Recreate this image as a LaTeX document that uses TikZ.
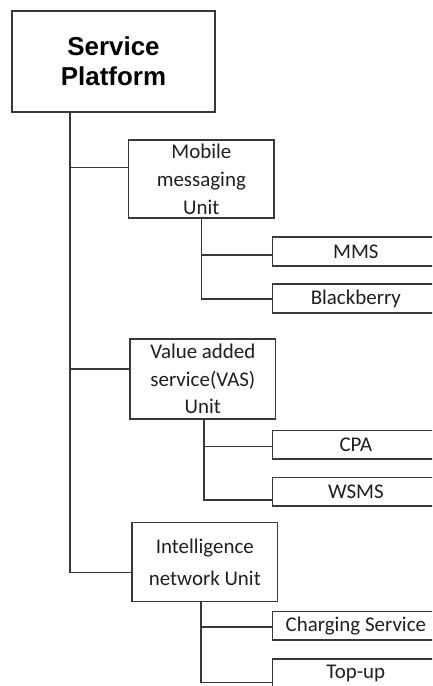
\documentclass[tikz,border=0pt]{standalone}
\usepackage{fontspec}
\setmainfont{Carlito}
\newfontfamily\headfont{Liberation Sans}
\begin{document}
\begin{tikzpicture}[x=1bp,y=-1bp,
  edgeline/.style={draw=black!78, line width=1.3bp},
  box/.style={edgeline, rectangle, inner sep=0pt, align=center, text=black!88,
    font=\fontsize{21}{28}\selectfont},
  unitbox/.style={box, minimum width=145.5bp, minimum height=79bp},
  leafbox/.style={box, minimum width=166.3bp, minimum height=29bp},
]
\clip (0,0) rectangle (432,686);
\fill[white] (0,0) rectangle (432,686);

% root
\node[edgeline, inner sep=0pt, minimum width=203bp, minimum height=101bp, align=center,
  font=\headfont\bfseries\fontsize{26}{30}\selectfont] (sp) at (113.5,61.5) {Service\\Platform};

% units
\node[unitbox, minimum height=78bp] (mob) at (201.35,179) {Mobile\\messaging\\Unit};
\node[unitbox, minimum height=80bp, font=\fontsize{21}{27.5}\selectfont] (vas) at (202.85,379) {Value added\\service(VAS)\\Unit};
\node[unitbox, font=\fontsize{21}{31.6}\selectfont] (in) at (204.85,562.2) {Intelligence\\network Unit};

% services
\node[leafbox] (mms) at (355.85,251.5) {MMS};
\node[leafbox] (bb) at (355.85,298.5) {Blackberry};
\node[leafbox, minimum height=28.3bp] (cpa) at (355.85,444.85) {CPA};
\node[leafbox, minimum height=28.3bp] (wsms) at (355.85,491.85) {WSMS};
\node[leafbox, minimum height=28.3bp] (chg) at (355.85,625.85) {Charging Service};
\node[leafbox] (top) at (355.85,673.5) {Top-up};

% main trunk
\coordinate (jm) at (70,167.7);
\coordinate (jv) at (70,369);
\coordinate (jn) at (70,572.7);
\draw[edgeline] (sp.south -| jn) -- (jn) -- (jn -| in.west);
\draw[edgeline] (jm) -- (jm -| mob.west);
\draw[edgeline] (jv) -- (jv -| vas.west);

% mobile messaging branch
\coordinate (km1) at (201.6,255);
\coordinate (km2) at (201.6,299);
\draw[edgeline] (mob.south -| km2) -- (km2) -- (km2 -| bb.west);
\draw[edgeline] (km1) -- (km1 -| mms.west);

% VAS branch
\coordinate (kv1) at (204,446.7);
\coordinate (kv2) at (204,500);
\draw[edgeline] (vas.south -| kv2) -- (kv2) -- (kv2 -| wsms.west);
\draw[edgeline] (kv1) -- (kv1 -| cpa.west);

% intelligence network branch
\coordinate (kn1) at (201,627);
\coordinate (kn2) at (201,682.7);
\draw[edgeline] (in.south -| kn2) -- (kn2) -- (kn2 -| top.west);
\draw[edgeline] (kn1) -- (kn1 -| chg.west);
\end{tikzpicture}
\end{document}
